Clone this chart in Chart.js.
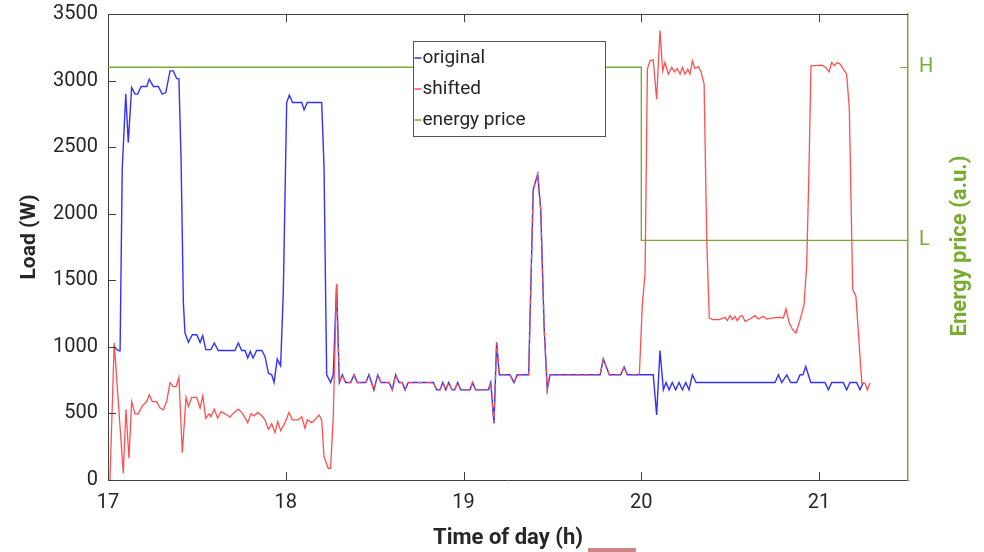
<!DOCTYPE html>
<html>
<head>
<meta charset="utf-8">
<title>Load shifting</title>
<script src="https://cdn.jsdelivr.net/npm/chart.js@4.4.1/dist/chart.umd.min.js"></script>
<style>
    html, body { margin: 0; padding: 0; background: #fff; }
    #wrap { position: relative; width: 984px; height: 552px; }
    #mark { position: absolute; left: 588px; top: 548px; width: 48px; height: 4px; background: #d08585; }
</style>
</head>
<body>
<div id="wrap">
    <canvas id="loadChart" width="984" height="552"></canvas>
    <div id="mark"></div>
</div>
<script>
// Tick labels
const timeTicks = [17, 18, 19, 20, 21];
const loadTicks = [0, 500, 1000, 1500, 2000, 2500, 3000, 3500];
const priceTicks = [1800, 3100];
const priceTickLabels = ['L', 'H'];

// Original load profile (time in hours, load in W)
const originalTime = [
    17.028, 17.062, 17.068, 17.080, 17.100, 17.114, 17.133, 17.152, 17.167, 17.186,
    17.218, 17.232, 17.255, 17.283, 17.305, 17.325, 17.349, 17.367, 17.386, 17.399,
    17.411, 17.424, 17.433, 17.452, 17.474, 17.499, 17.518, 17.533, 17.550, 17.579,
    17.598, 17.620, 17.714, 17.733, 17.752, 17.771, 17.786, 17.800, 17.816, 17.836,
    17.865, 17.883, 17.902, 17.921, 17.934, 17.952, 17.971, 17.986, 18.005, 18.020,
    18.038, 18.090, 18.103, 18.121, 18.202, 18.215, 18.230, 18.252, 18.267, 18.286,
    18.301, 18.318, 18.337, 18.365, 18.384, 18.402, 18.450, 18.468, 18.496, 18.517,
    18.536, 18.581, 18.599, 18.618, 18.637, 18.655, 18.671, 18.689, 18.830, 18.849,
    18.868, 18.883, 18.900, 18.916, 18.935, 18.950, 18.967, 18.984, 19.036, 19.051,
    19.068, 19.139, 19.153, 19.171, 19.186, 19.201, 19.261, 19.284, 19.302, 19.366,
    19.392, 19.417, 19.434, 19.453, 19.471, 19.486, 19.768, 19.786, 19.820, 19.884,
    19.903, 19.921, 19.989, 20.067, 20.086, 20.105, 20.124, 20.139, 20.156, 20.174,
    20.193, 20.212, 20.231, 20.250, 20.268, 20.287, 20.308, 20.752, 20.771, 20.790,
    20.818, 20.840, 20.874, 20.893, 20.909, 20.925, 20.953, 21.033, 21.052, 21.071,
    21.136, 21.155, 21.174, 21.211, 21.230, 21.249
];
const originalLoad = [
    1000, 970, 970, 2333, 2898, 2534, 2948, 2898, 2898, 2956,
    2956, 3011, 2956, 2956, 2898, 2910, 3073, 3073, 3016, 3011,
    2409, 1332, 1106, 1034, 1091, 1091, 1034, 1084, 979, 979,
    1029, 973, 973, 1029, 973, 973, 916, 966, 916, 973,
    973, 928, 803, 790, 732, 908, 858, 1405, 2835, 2890,
    2835, 2835, 2780, 2835, 2835, 2358, 790, 732, 790, 1468,
    732, 790, 732, 732, 790, 732, 732, 790, 677, 790,
    732, 732, 677, 790, 732, 732, 677, 732, 732, 677,
    677, 732, 677, 732, 677, 677, 732, 677, 677, 732,
    677, 677, 732, 427, 1034, 790, 790, 732, 790, 790,
    2183, 2296, 2032, 1154, 677, 790, 790, 908, 790, 790,
    848, 790, 790, 790, 489, 973, 677, 732, 677, 732,
    677, 732, 677, 732, 677, 790, 732, 732, 790, 732,
    790, 732, 732, 790, 790, 853, 732, 732, 677, 732,
    732, 677, 732, 732, 677, 732
];

// Shifted profile: own values before 18.286 h and after 19.989 h
const shiftedEarlyTime = [
    17.011, 17.035, 17.086, 17.101, 17.118, 17.133, 17.152, 17.170, 17.193, 17.218,
    17.232, 17.249, 17.274, 17.293, 17.311, 17.330, 17.349, 17.367, 17.383, 17.399,
    17.418, 17.439, 17.452, 17.471, 17.499, 17.518, 17.533, 17.550, 17.568, 17.579,
    17.598, 17.617, 17.636, 17.658, 17.686, 17.705, 17.733, 17.758, 17.786, 17.804,
    17.823, 17.842, 17.865, 17.883, 17.902, 17.921, 17.939, 17.955, 17.971, 17.996,
    18.018, 18.037, 18.070, 18.090, 18.108, 18.121, 18.146, 18.164, 18.187, 18.202,
    18.215, 18.239, 18.252, 18.267
];
const shiftedEarlyLoad = [
    0, 1029, 50, 532, 163, 589, 497, 497, 557, 589,
    640, 589, 589, 540, 527, 589, 732, 702, 702, 770,
    205, 620, 552, 620, 620, 540, 632, 464, 497, 476,
    532, 464, 514, 497, 472, 502, 532, 497, 431, 497,
    482, 507, 482, 452, 381, 422, 356, 439, 371, 431,
    507, 452, 452, 476, 389, 452, 431, 452, 489, 452,
    175, 88, 88, 476
];
const shiftedLateTime = [
    20.005, 20.021, 20.034, 20.049, 20.067, 20.086, 20.105, 20.120, 20.133, 20.152,
    20.171, 20.186, 20.202, 20.218, 20.231, 20.246, 20.261, 20.274, 20.287, 20.302,
    20.320, 20.336, 20.353, 20.368, 20.382, 20.401, 20.439, 20.471, 20.484, 20.499,
    20.512, 20.527, 20.540, 20.555, 20.568, 20.583, 20.611, 20.639, 20.658, 20.686,
    20.705, 20.742, 20.771, 20.799, 20.814, 20.832, 20.851, 20.870, 20.893, 20.915,
    20.930, 20.943, 20.954, 21.015, 21.037, 21.056, 21.071, 21.085, 21.102, 21.118,
    21.136, 21.155, 21.170, 21.189, 21.207, 21.240, 21.258, 21.271, 21.286
];
const shiftedLateLoad = [
    1305, 1556, 3086, 3149, 3156, 2860, 3375, 3073, 3136, 3048,
    3099, 3066, 3091, 3048, 3099, 3048, 3086, 3048, 3149, 3091,
    3104, 3066, 2973, 1806, 1217, 1204, 1204, 1222, 1197, 1234,
    1204, 1229, 1197, 1229, 1234, 1192, 1209, 1234, 1209, 1229,
    1209, 1217, 1222, 1217, 1285, 1179, 1129, 1104, 1204, 1317,
    1606, 2333, 3111, 3116, 3099, 3066, 3136, 3111, 3136, 3124,
    3086, 3048, 2785, 1430, 1380, 728, 728, 677, 728
];

// Energy price level (plotted on the load scale, labelled H / L)
const priceTime = [17, 20, 21.5];
const priceLevel = [3100, 1800, 1800];

// between 18.286 h and 19.989 h the shifted profile is the original one
const sharedFrom = originalTime.indexOf(18.286);
const sharedTo = originalTime.indexOf(19.989) + 1;
const shiftedTime = [...shiftedEarlyTime, ...originalTime.slice(sharedFrom, sharedTo), ...shiftedLateTime];
const shiftedLoad = [...shiftedEarlyLoad, ...originalLoad.slice(sharedFrom, sharedTo), ...shiftedLateLoad];

const GREEN = 'rgb(119, 172, 48)';
const AXIS = '#404040';
const TEXT = '#262626';

Chart.defaults.font.family = 'Roboto, "Noto Sans", sans-serif';
Chart.defaults.color = TEXT;

function toPoints(xs, ys) {
    return xs.map((x, i) => ({ x: x, y: ys[i] }));
}

const originalKeys = new Set(originalTime.map((t, i) => t + ':' + originalLoad[i]));
function onOriginal(i) {
    return originalKeys.has(shiftedTime[i] + ':' + shiftedLoad[i]);
}

// keep the plot box fixed, no extra room for half labels
function noPadding(s) {
    s.paddingTop = 0;
    s.paddingBottom = 0;
    s.paddingLeft = 0;
    s.paddingRight = 0;
}

// inward ticks, top frame line, side titles and the boxed legend
const framePlugin = {
    id: 'frame',
    afterDraw(chart) {
        const { ctx, chartArea: a, scales } = chart;
        const line = (x1, y1, x2, y2) => {
            ctx.beginPath();
            ctx.moveTo(x1, y1);
            ctx.lineTo(x2, y2);
            ctx.stroke();
        };
        ctx.save();
        ctx.lineWidth = 1;
        ctx.strokeStyle = AXIS;
        line(a.left, a.top + 0.5, a.right, a.top + 0.5);
        loadTicks.forEach(v => {
            const y = Math.round(scales.y.getPixelForValue(v)) + 0.5;
            line(a.left, y, a.left + 8, y);
        });
        timeTicks.forEach(v => {
            const x = Math.round(scales.x.getPixelForValue(v)) + 0.5;
            line(x, a.bottom, x, a.bottom - 8);
            line(x, a.top, x, a.top + 8);
        });
        ctx.strokeStyle = GREEN;
        priceTicks.forEach(v => {
            const y = Math.round(scales.y2.getPixelForValue(v)) + 0.5;
            line(a.right, y, a.right - 8, y);
        });

        // vertical axis titles
        ctx.textAlign = 'center';
        ctx.textBaseline = 'middle';
        ctx.font = 'bold 21px Roboto';
        ctx.fillStyle = TEXT;
        ctx.save();
        ctx.translate(30, 237);
        ctx.rotate(-Math.PI / 2);
        ctx.fillText('Load (W)', 0, 0);
        ctx.restore();
        ctx.font = 'bold 22px Roboto';
        ctx.fillStyle = GREEN;
        ctx.save();
        ctx.translate(960, 246);
        ctx.rotate(-Math.PI / 2);
        ctx.fillText('Energy price (a.u.)', 0, 0);
        ctx.restore();

        // legend box
        const box = { x: 413.5, y: 41.5, w: 192, h: 95 };
        ctx.fillStyle = '#fff';
        ctx.fillRect(box.x, box.y, box.w, box.h);
        ctx.strokeStyle = '#555';
        ctx.strokeRect(box.x, box.y, box.w, box.h);
        ctx.font = '19px Roboto';
        ctx.textAlign = 'left';
        ctx.fillStyle = TEXT;
        chart.data.datasets.forEach((ds, i) => {
            const y = 58 + i * 31;
            ctx.strokeStyle = ds.borderColor;
            ctx.lineWidth = 1.5;
            line(box.x + 1, y, box.x + 8, y);
            ctx.fillText(ds.label, box.x + 9, y);
        });
        ctx.restore();
    }
};

const chart = new Chart(document.getElementById('loadChart'), {
    type: 'line',
    data: {
        datasets: [
            {
                label: 'original',
                data: toPoints(originalTime, originalLoad),
                borderColor: 'rgb(50, 50, 255)',
                borderWidth: 1.4,
                pointRadius: 0,
                yAxisID: 'y',
                order: 2
            },
            {
                label: 'shifted',
                data: toPoints(shiftedTime, shiftedLoad),
                borderColor: 'rgb(255, 80, 80)',
                borderWidth: 1.3,
                pointRadius: 0,
                yAxisID: 'y',
                order: 1,
                segment: {
                    borderDash: ctx => (onOriginal(ctx.p0DataIndex) && onOriginal(ctx.p1DataIndex)) ? [5, 4] : undefined
                }
            },
            {
                label: 'energy price',
                data: toPoints(priceTime, priceLevel),
                borderColor: GREEN,
                borderWidth: 1.4,
                pointRadius: 0,
                stepped: 'before',
                yAxisID: 'y2',
                order: 3
            }
        ]
    },
    options: {
        responsive: false,
        animation: false,
        layout: { padding: { top: 14, left: 0, right: 0, bottom: 0 } },
        plugins: {
            legend: { display: false },
            tooltip: { enabled: false }
        },
        scales: {
            x: {
                type: 'linear',
                min: 17,
                max: 21.5,
                afterFit: s => { s.height = 72; noPadding(s); },
                afterBuildTicks: s => { s.ticks = timeTicks.map(v => ({ value: v })); },
                ticks: { font: { size: 20 }, color: TEXT, padding: 11, maxRotation: 0, autoSkip: false },
                grid: { display: false, drawTicks: false },
                border: { display: true, color: AXIS, width: 1 },
                title: {
                    display: true,
                    text: 'Time of day (h)',
                    color: TEXT,
                    font: { size: 22, weight: 'bold' },
                    padding: { top: 0, bottom: 0 }
                }
            },
            y: {
                position: 'left',
                min: 0,
                max: 3500,
                afterFit: s => { s.width = 108; noPadding(s); },
                afterBuildTicks: s => { s.ticks = loadTicks.map(v => ({ value: v })); },
                ticks: { font: { size: 20 }, color: TEXT, padding: 10, callback: v => String(v) },
                grid: { display: false, drawTicks: false },
                border: { display: true, color: AXIS, width: 1 }
            },
            y2: {
                position: 'right',
                min: 0,
                max: 3500,
                afterFit: s => { s.width = 76; noPadding(s); },
                afterBuildTicks: s => { s.ticks = priceTicks.map(v => ({ value: v })); },
                ticks: {
                    font: { size: 20 },
                    color: GREEN,
                    padding: 11,
                    callback: (v, i) => priceTickLabels[i]
                },
                grid: { display: false, drawTicks: false },
                border: { display: true, color: GREEN, width: 1.5 }
            }
        }
    },
    plugins: [framePlugin]
});
</script>
</body>
</html>
